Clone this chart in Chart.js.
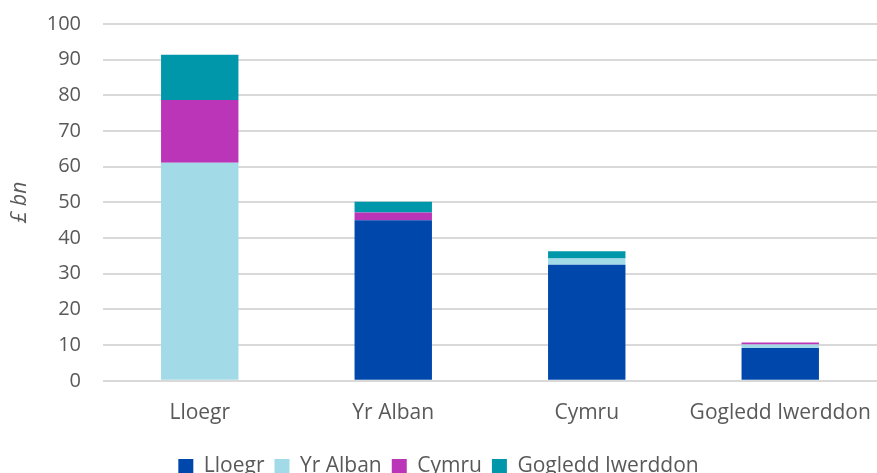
<!DOCTYPE html>
<html>
<head>
<meta charset="utf-8">
<script src="https://cdn.jsdelivr.net/npm/chart.js@4/dist/chart.umd.min.js"></script>
<style>
html,body{margin:0;padding:0;background:#fff;}
#wrap{width:877px;height:473px;position:relative;}
</style>
</head>
<body>
<div id="wrap"><canvas id="c"></canvas></div>
<script>
const categories = ["Lloegr", "Yr Alban", "Cymru", "Gogledd Iwerddon"];
const seriesNames = ["Lloegr", "Yr Alban", "Cymru", "Gogledd Iwerddon"];
const lloegr = [0, 45.0, 32.5, 9.2];
const yrAlban = [61.1, 0, 1.8, 1.0];
const cymru = [17.6, 2.2, 0, 0.5];
const gogleddIwerddon = [12.7, 3.0, 2.0, 0];
const yTicks = [0, 10, 20, 30, 40, 50, 60, 70, 80, 90, 100];

const colors = ["#0047AB", "#A3DAE8", "#BA35B8", "#0097AA"];
const values = [lloegr, yrAlban, cymru, gogleddIwerddon];
const font = "'Open Sans', 'Liberation Sans', sans-serif";
const textColor = "#595959";

new Chart(document.getElementById('c'), {
  type: 'bar',
  data: {
    labels: categories,
    datasets: seriesNames.map((n, i) => ({
      label: n,
      data: values[i],
      backgroundColor: colors[i],
      borderWidth: 0,
      barPercentage: 0.4,
      categoryPercentage: 1.0
    }))
  },
  options: {
    responsive: true,
    maintainAspectRatio: false,
    animation: false,
    layout: { padding: { top: 24, right: 0, left: 0, bottom: -14 } },
    plugins: {
      legend: {
        position: 'bottom',
        labels: {
          boxWidth: 15, boxHeight: 15, padding: 10,
          color: textColor,
          font: { family: font, size: 21 }
        }
      },
      tooltip: { enabled: false }
    },
    scales: {
      x: {
        stacked: true,
        afterFit: (s) => { s.paddingLeft = 0; s.paddingRight = 0; },
        grid: { display: false, drawTicks: false },
        border: { display: false },
        ticks: { color: textColor, font: { family: font, size: 21 }, padding: 20, maxRotation: 0 }
      },
      y: {
        stacked: true,
        min: 0, max: 100,
        afterBuildTicks: (s) => { s.ticks = yTicks.map(v => ({ value: v })); },
        afterFit: (s) => { s.width = 103; s.paddingTop = 0; s.paddingBottom = 0; },
        grid: { color: "#D9D9D9", lineWidth: 2, drawTicks: false },
        border: { display: false },
        ticks: { color: textColor, font: { family: font, size: 20 }, padding: 22 },
        title: {
          display: true, text: "£ bn", color: textColor,
          font: { family: font, size: 21, style: 'italic' },
          padding: { top: 7, bottom: 0 }
        }
      }
    }
  }
});
</script>
</body>
</html>
